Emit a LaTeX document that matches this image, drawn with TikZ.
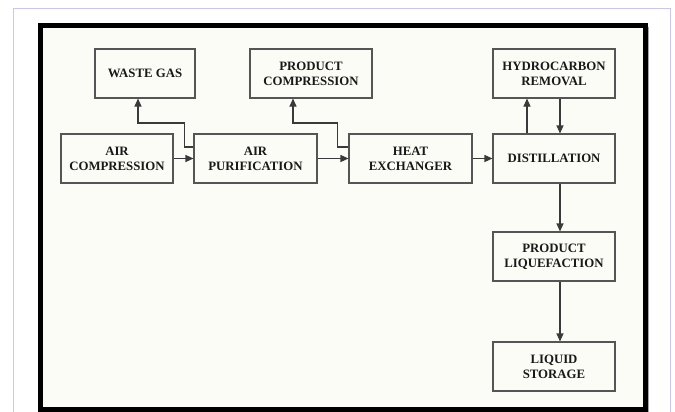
\documentclass[tikz,border=0pt]{standalone}
\usepackage{fontspec}
\setmainfont{Liberation Serif}
\usepackage{tikz}
\usetikzlibrary{arrows.meta,positioning,calc}
\definecolor{paper}{HTML}{FCFCF6}
\definecolor{frameline}{HTML}{C9C6E6}
\definecolor{boxline}{HTML}{555555}
\definecolor{inkline}{HTML}{3A3A3A}
\tikzset{
  block/.style={
    rectangle, draw=boxline, line width=1.1pt,
    minimum width=122pt,
    minimum height=49pt,
    align=center,
    inner sep=2pt,
    text=black!90,
    font=\bfseries\fontsize{12.8}{15}\selectfont
  },
  % connettori
  flow/.style={-{Triangle[length=8pt,width=7pt]}, draw=inkline, line width=1.1pt},
  line/.style={draw=inkline, line width=1.1pt}
}

\begin{document}
\begin{tikzpicture}[x=1pt, y=-1pt]
\useasboundingbox (0,0) rectangle (675,412);
\clip (0,0) rectangle (675,412);

% Cornice
\fill[white] (0,0) rectangle (675,412);
\draw[frameline, line width=1pt] (13,9) rectangle (670,430);
\draw[black!35, line width=3pt] (647,27) -- (647,430);
\draw[black, line width=5pt, fill=paper] (40.5,25.5) rectangle (645.5,409.5);

% Riga superiore
\node[block, minimum width=100pt] (waste) at (145,73.5) {WASTE GAS};
\node[block] (prodcomp) at (311,73.5) {PRODUCT\\COMPRESSION};
\node[block] (hydro) at (554,73.5) {HYDROCARBON\\REMOVAL};

% Riga centrale
\node[block, minimum width=112pt] (aircomp) at (117,158.5) {AIR\\COMPRESSION};
\node[block, minimum width=123pt] (airpur) at (255.5,158.5) {AIR\\PURIFICATION};
\node[block, minimum width=123pt] (heatex) at (410.5,158.5) {HEAT\\EXCHANGER};
\node[block] (distil) at (554,158.5) {DISTILLATION};

% Colonna destra
\node[block] (liquef) at (554,256.5) {PRODUCT\\LIQUEFACTION};
\node[block] (storage) at (554,366.5) {LIQUID\\STORAGE};

% Flusso principale
\draw[flow] (aircomp) -- (airpur);
\draw[flow] (airpur) -- (heatex);
\draw[flow] (heatex) -- (distil);

% Scarichi verso l'alto
\draw[flow] ([yshift=11.5pt]airpur.west) -- ++(-9,0) -- ++(0,-24) -| ([xshift=-7pt]waste.south);
\draw[flow] ([yshift=11.5pt]heatex.west) -- ++(-11,0) -- ++(0,-24) -| ([xshift=-18pt]prodcomp.south);

% Distillazione e idrocarburi
\draw[flow] ([xshift=-27pt]distil.north) -- ([xshift=-27pt]hydro.south);
\draw[flow] ([xshift=6pt]hydro.south) -- ([xshift=6pt]distil.north);

% Liquefazione e stoccaggio
\draw[flow] ([xshift=6pt]distil.south) -- ([xshift=6pt]liquef.north);
\draw[flow] ([xshift=6pt]liquef.south) -- ([xshift=6pt]storage.north);

\end{tikzpicture}
\end{document}
